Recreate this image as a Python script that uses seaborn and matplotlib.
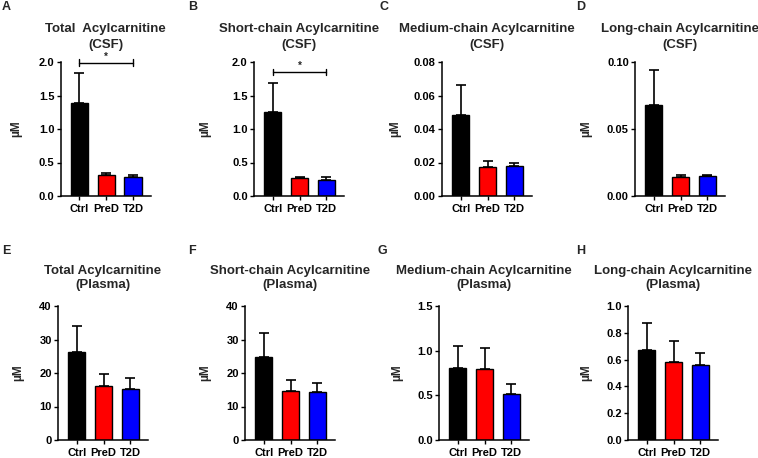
import matplotlib
matplotlib.use("Agg")
import matplotlib.pyplot as plt
import seaborn as sns
import pandas as pd
import numpy as np

sns.set_theme(style="ticks")
plt.rcParams['font.family'] = ['Liberation Sans', 'DejaVu Sans']
plt.rcParams['font.weight'] = 'bold'

groups = ["Ctrl", "PreD", "T2D"]
colors = ["#000000", "#FF0000", "#0000FF"]

panel_letters = ["A", "B", "C", "D", "E", "F", "G", "H"]
titles = ["Total  Acylcarnitine\n(CSF)", "Short-chain Acylcarnitine\n(CSF)",
          "Medium-chain Acylcarnitine\n(CSF)", "Long-chain Acylcarnitine\n(CSF)",
          "Total Acylcarnitine\n(Plasma)", "Short-chain Acylcarnitine\n(Plasma)",
          "Medium-chain Acylcarnitine\n(Plasma)", "Long-chain Acylcarnitine\n(Plasma)"]

means_A = [1.39, 0.31, 0.28]
upper_A = [1.83, 0.34, 0.32]
means_B = [1.26, 0.27, 0.24]
upper_B = [1.68, 0.29, 0.28]
means_C = [0.0485, 0.0172, 0.0177]
upper_C = [0.0665, 0.0208, 0.0195]
means_D = [0.068, 0.0145, 0.015]
upper_D = [0.094, 0.016, 0.0155]
means_E = [26.3, 16.0, 15.3]
upper_E = [34.0, 19.7, 18.4]
means_F = [24.7, 14.6, 14.2]
upper_F = [32.0, 18.0, 17.1]
means_G = [0.81, 0.80, 0.52]
upper_G = [1.05, 1.03, 0.63]
means_H = [0.67, 0.585, 0.56]
upper_H = [0.875, 0.74, 0.65]

all_means = [means_A, means_B, means_C, means_D, means_E, means_F, means_G, means_H]
all_upper = [upper_A, upper_B, upper_C, upper_D, upper_E, upper_F, upper_G, upper_H]

yticks_list = [[0.0, 0.5, 1.0, 1.5, 2.0], [0.0, 0.5, 1.0, 1.5, 2.0],
               [0.00, 0.02, 0.04, 0.06, 0.08], [0.00, 0.05, 0.10],
               [0, 10, 20, 30, 40], [0, 10, 20, 30, 40],
               [0.0, 0.5, 1.0, 1.5], [0.0, 0.2, 0.4, 0.6, 0.8, 1.0]]
ytick_fmt = ["%.1f", "%.1f", "%.2f", "%.2f", "%d", "%d", "%.1f", "%.1f"]

# significance brackets: (panel index, y level)
sig_levels = {0: 1.99, 1: 1.85}

W, H = 758, 458
fig = plt.figure(figsize=(W / 100, H / 100), dpi=100)

ax_left_px = [60.7, 254, 442, 635, 58, 245, 439, 628]
ax_top_px = [62, 62, 62, 62, 306, 306, 306, 306]
ax_bot_px = [196, 196, 196, 196, 440, 440, 440, 440]
ax_w_px = 90
letter_x_px = [2, 188, 380, 576, 2, 188, 378, 576]
letter_y_px = [1, 1, 1, 1, 245, 245, 245, 245]
title_ls = [1.5, 1.5, 1.5, 1.5, 1.2, 1.2, 1.2, 1.2]
title_pad = [10, 10, 10, 10, 13, 13, 13, 13]
ylabel_off_px = [-42, -47, -45, -47, -38, -38, -40, -40]

for i in range(8):
    l = ax_left_px[i] / W
    b = 1 - ax_bot_px[i] / H
    h = (ax_bot_px[i] - ax_top_px[i]) / H
    ax = fig.add_axes([l, b, ax_w_px / W, h])
    df = pd.DataFrame({"group": groups, "value": all_means[i]})
    sns.barplot(data=df, x="group", y="value", hue="group", palette=colors,
                saturation=1, edgecolor="black", linewidth=1.0, width=0.65,
                legend=False, ax=ax)
    err = np.array(all_upper[i]) - np.array(all_means[i])
    ax.errorbar(np.arange(3), all_means[i], yerr=[np.zeros(3), err], fmt="none",
                ecolor="black", elinewidth=1.2, capsize=3.8, capthick=1.2, zorder=3)
    yt = yticks_list[i]
    ax.set_ylim(yt[0], yt[-1])
    ax.set_yticks(yt)
    ax.set_yticklabels([ytick_fmt[i] % v for v in yt])
    ax.set_xlim(-0.7, 2.66)
    ax.set_xlabel("")
    ax.set_ylabel("µM", fontsize=8.5, fontweight="bold")
    ax.yaxis.set_label_coords((ylabel_off_px[i] + 4) / ax_w_px, 0.5)
    sns.despine(ax=ax)
    for s in ["left", "bottom"]:
        ax.spines[s].set_linewidth(1.1)
        ax.spines[s].set_color("black")
    ax.tick_params(axis="both", length=3, width=1.0, color="black",
                   labelsize=8, pad=1.5)
    ax.tick_params(axis="x", pad=2.5)
    for t in ax.get_xticklabels() + ax.get_yticklabels():
        t.set_fontweight("bold")
        t.set_color("black")
    ax.set_title(titles[i], fontsize=9.5, fontweight="bold", pad=title_pad[i],
                 linespacing=title_ls[i])
    if i in sig_levels:
        yl = sig_levels[i]
        d = yt[-1] * 0.025
        ax.plot([0, 2], [yl, yl], color="black", lw=1.0, clip_on=False)
        ax.plot([0, 0], [yl - d, yl + d], color="black", lw=1.0, clip_on=False)
        ax.plot([2, 2], [yl - d, yl + d], color="black", lw=1.0, clip_on=False)
        ax.text(1, yl + d * 0.3, "*", ha="center", va="bottom", fontsize=7, fontweight="bold")
    fig.text(letter_x_px[i] / W, 1 - letter_y_px[i] / H, panel_letters[i],
             fontsize=9, fontweight="bold", ha="left", va="top")

fig.savefig("out.png", dpi=100, facecolor="white")
